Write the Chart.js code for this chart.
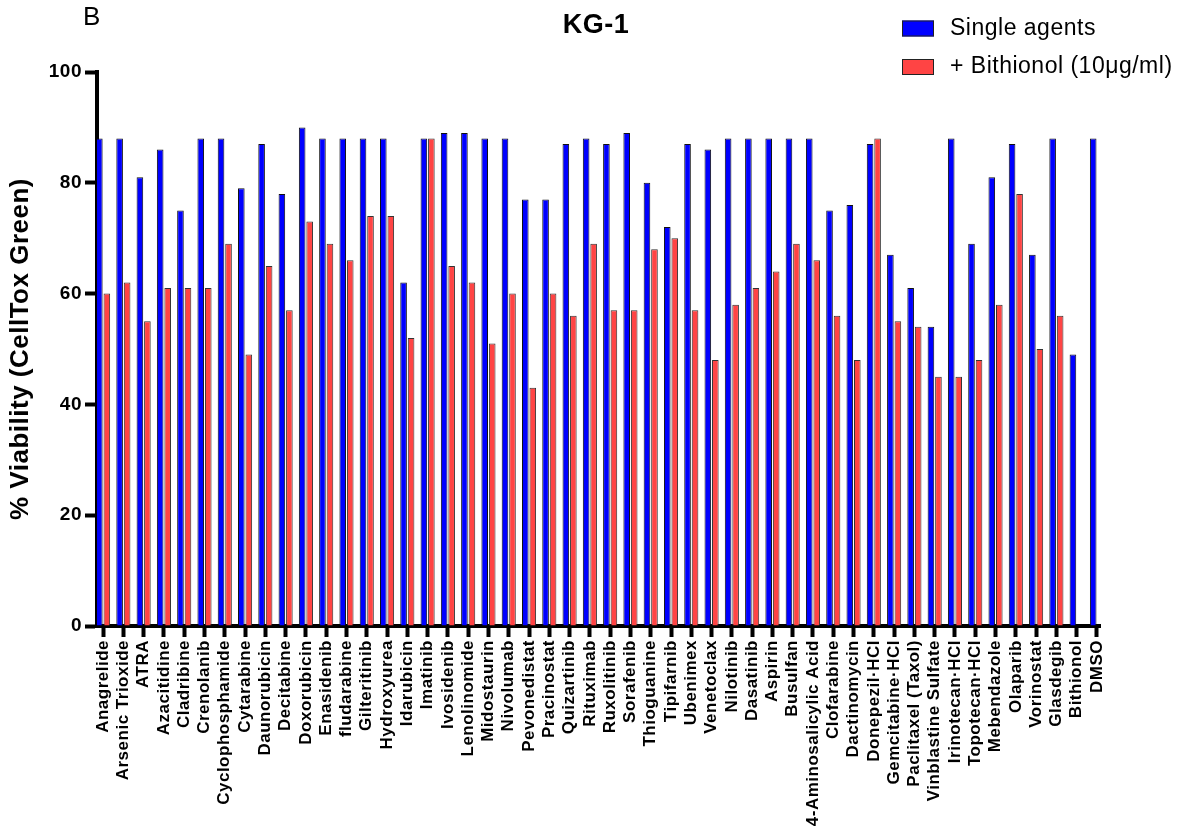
<!DOCTYPE html>
<html>
<head>
<meta charset="utf-8">
<script src="https://cdn.jsdelivr.net/npm/chart.js@4.4.1/dist/chart.umd.min.js"></script>
<style>
  html, body { margin: 0; padding: 0; background: #fff; }
  #wrap { width: 1189px; height: 838px; position: relative; }
</style>
</head>
<body>
<div id="wrap"><canvas id="kgChart"></canvas></div>
<script>
// drug names along the x axis
const drugs = [
    'Anagrelide', 'Arsenic Trioxide', 'ATRA', 'Azacitidine', 'Cladribine',
    'Crenolanib', 'Cyclophosphamide', 'Cytarabine', 'Daunorubicin', 'Decitabine',
    'Doxorubicin', 'Enasidenib', 'fludarabine', 'Gilteritinib', 'Hydroxyurea',
    'Idarubicin', 'Imatinib', 'Ivosidenib', 'Lenolinomide', 'Midostaurin',
    'Nivolumab', 'Pevonedistat', 'Pracinostat', 'Quizartinib', 'Rituximab',
    'Ruxolitinib', 'Sorafenib', 'Thioguanine', 'Tipifarnib', 'Ubenimex',
    'Venetoclax', 'Nilotinib', 'Dasatinib', 'Aspirin', 'Busulfan',
    '4-Aminosalicylic Acid', 'Clofarabine', 'Dactinomycin', 'Donepezil\u00b7HCl', 'Gemcitabine\u00b7HCl',
    'Paclitaxel (Taxol)', 'Vinblastine Sulfate', 'Irinotecan\u00b7HCl', 'Topotecan\u00b7HCl', 'Mebendazole',
    'Olaparib', 'Vorinostat', 'Glasdegib', 'Bithionol', 'DMSO'
];

// % viability, single agents
const singleAgents = [
    88, 88, 81, 86, 75, 88, 88, 79, 87, 78,
    90, 88, 88, 88, 88, 62, 88, 89, 89, 88,
    88, 77, 77, 87, 88, 87, 89, 80, 72, 87,
    86, 88, 88, 88, 88, 88, 75, 76, 87, 67,
    61, 54, 88, 69, 81, 87, 67, 88, 49, 88
];

// % viability, combined with bithionol (none for Bithionol / DMSO)
const withBithionol = [
    60, 62, 55, 61, 61, 61, 69, 49, 65, 57,
    73, 69, 66, 74, 74, 52, 88, 65, 62, 51,
    60, 43, 60, 56, 69, 57, 57, 68, 70, 57,
    48, 58, 61, 64, 69, 66, 56, 48, 88, 55,
    54, 45, 45, 48, 58, 78, 50, 56, null, null
];

const yTicks = [0, 20, 40, 60, 80, 100];

const FONT = "'Liberation Sans', Arial, Helvetica, sans-serif";
Chart.defaults.font.family = FONT;
Chart.defaults.color = '#000';

// the original figure has slightly spread lettering
const spacing = {
    id: 'spacing',
    beforeUpdate(chart) { chart.ctx.letterSpacing = '0.5px'; },
    beforeDraw(chart) { chart.ctx.letterSpacing = '0.5px'; }
};

// title, stacked legend at top right, panel letter
const extras = {
    id: 'extras',
    afterDraw(chart) {
        const ctx = chart.ctx;
        ctx.save();
        ctx.letterSpacing = '0.5px';
        ctx.textBaseline = 'middle';

        ctx.textAlign = 'center';
        ctx.fillStyle = '#000';
        ctx.font = 'bold 27px ' + FONT;
        ctx.fillText('KG-1', 596, 26);

        ctx.textAlign = 'left';
        ctx.font = '23px ' + FONT;
        chart.data.datasets.forEach((ds, i) => {
            const y = 28.5 + i * 38.5;
            ctx.fillStyle = ds.backgroundColor;
            ctx.fillRect(902, y - 8, 32, 16);
            ctx.strokeStyle = '#222';
            ctx.lineWidth = 1;
            ctx.strokeRect(902.5, y - 7.5, 31, 15);
            ctx.fillStyle = '#000';
            ctx.fillText(ds.label, 950, y);
        });
        ctx.font = '26px ' + FONT;
        ctx.fillText('B', 83, 18);
        ctx.restore();
    }
};

const ctx = document.getElementById('kgChart').getContext('2d');
const chart = new Chart(ctx, {
    type: 'bar',
    data: {
        datasets: [{
            label: 'Single agents',
            data: drugs.map((d, i) => ({ x: i, y: singleAgents[i] })),
            backgroundColor: '#0000ff',
            borderColor: '#111',
            borderWidth: 1
        }, {
            label: '+ Bithionol (10\u03bcg/ml)',
            data: drugs.map((d, i) => ({ x: i, y: withBithionol[i] })),
            backgroundColor: '#ff4444',
            borderColor: '#333',
            borderWidth: 1
        }]
    },
    options: {
        responsive: true,
        maintainAspectRatio: false,
        animation: false,
        categoryPercentage: 0.74,
        barPercentage: 0.88,
        layout: {
            padding: { top: 72, left: 0, right: 89, bottom: 0 }
        },
        plugins: {
            legend: { display: false },
            tooltip: { enabled: false },
            title: { display: false }
        },
        scales: {
            x: {
                type: 'linear',
                min: -0.3,
                max: 49.15,
                bounds: 'data',
                offset: false,
                afterBuildTicks: (scale) => {
                    scale.ticks = drugs.map((d, i) => ({ value: i }));
                },
                afterFit: (scale) => { scale.height = 212; },
                ticks: {
                    autoSkip: false,
                    minRotation: 90,
                    maxRotation: 90,
                    padding: 3,
                    color: '#000',
                    font: { size: 17, weight: 'bold' },
                    callback: (v) => drugs[v]
                },
                grid: {
                    offset: false,
                    drawOnChartArea: false,
                    drawTicks: true,
                    tickLength: 11,
                    tickWidth: 4,
                    color: '#000'
                },
                border: { display: true, width: 4, color: '#000' }
            },
            y: {
                min: 0,
                max: 100,
                afterBuildTicks: (scale) => {
                    scale.ticks = yTicks.map(v => ({ value: v }));
                },
                afterFit: (scale) => { scale.width = 97; },
                ticks: {
                    padding: 3,
                    color: '#000',
                    font: { size: 19, weight: 'bold' }
                },
                grid: {
                    drawOnChartArea: false,
                    drawTicks: true,
                    tickLength: 12,
                    tickWidth: 4,
                    color: '#000'
                },
                border: { display: true, width: 4, color: '#000' },
                title: {
                    display: true,
                    text: '% Viability (CellTox Green)',
                    color: '#000',
                    font: { size: 26, weight: 'bold' },
                    padding: { top: 5, bottom: 0 }
                }
            }
        }
    },
    plugins: [spacing, extras]
});
</script>
</body>
</html>
